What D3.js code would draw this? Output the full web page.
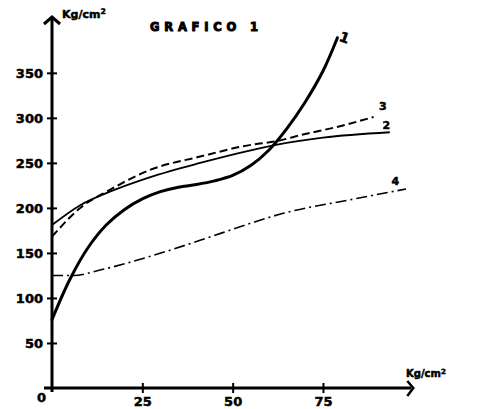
<!DOCTYPE html>
<html>
<head>
<meta charset="utf-8">
<script src="https://cdn.jsdelivr.net/npm/d3@7"></script>
<style>
  html, body { margin: 0; padding: 0; background: #fff; }
  svg { display: block; }
  text { font-family: "DejaVu Sans", sans-serif; font-weight: bold; fill: #000; stroke: #000; stroke-width: 0.5px; }
</style>
</head>
<body>
<svg id="chart" width="497" height="409"></svg>
<script>
// Curve 1: thick solid line
const c1X = [0, 5, 10, 15, 20, 25, 30, 35, 40, 45, 50, 55, 60, 65, 70, 75, 79];
const c1Y = [76, 121, 156, 181, 198, 210, 218, 223, 226, 230, 236, 247, 264, 288, 317, 352, 389];
// Curve 2: thin solid line
const c2X = [0, 7.8, 16, 27, 41, 55, 62, 75, 93.5];
const c2Y = [181, 203, 218, 234, 250, 264, 270, 278, 284];
// Curve 3: dashed line
const c3X = [0, 7.8, 16, 27, 41, 55, 62, 69, 80, 89];
const c3Y = [168, 200, 220, 242, 257, 270, 274, 281, 291, 301];
// Curve 4: dash-dot line
const c4X = [0, 6, 13.3, 27, 41, 55, 64, 82.5, 98];
const c4Y = [125, 125, 131, 146, 164, 183, 194, 209, 221];

const yTicks = [50, 100, 150, 200, 250, 300, 350];
const xTicks = [25, 50, 75];
const title = "GRAFICO 1";
const unitLabel = "Kg/cm";

const svg = d3.select("#chart");
const x = d3.scaleLinear().domain([0, 100]).range([52, 413.3]);
const y = d3.scaleLinear().domain([0, 412]).range([388, 17]);

// Axes with ticks crossing the axis line
const yAxis = d3.axisLeft(y).tickValues(yTicks).tickSize(0).tickPadding(9);
const gy = svg.append("g").attr("transform", `translate(${x(0)},0)`).call(yAxis);
gy.select(".domain").remove();
gy.selectAll(".tick line").attr("x1", -5).attr("x2", 5).attr("stroke", "#000").attr("stroke-width", 2);
gy.selectAll(".tick text").attr("font-size", 13).attr("font-family", "DejaVu Sans").attr("font-weight", "bold").attr("fill", "#000");

const xAxis = d3.axisBottom(x).tickValues(xTicks).tickSize(0).tickPadding(9);
const gx = svg.append("g").attr("transform", `translate(0,${y(0)})`).call(xAxis);
gx.select(".domain").remove();
gx.selectAll(".tick line").attr("y1", -5).attr("y2", 5).attr("stroke", "#000").attr("stroke-width", 2);
gx.selectAll(".tick text").attr("font-size", 13).attr("font-family", "DejaVu Sans").attr("font-weight", "bold").attr("fill", "#000");

// Axis lines with arrowheads
svg.append("line").attr("x1", x(0)).attr("x2", x(0)).attr("y1", y(0) + 4).attr("y2", y(412) + 2)
  .attr("stroke", "#000").attr("stroke-width", 3);
svg.append("path")
  .attr("d", `M${x(0) - 8},${y(412) + 7} L${x(0)},${y(412)} L${x(0) + 8},${y(412) + 7}`)
  .attr("fill", "none").attr("stroke", "#000").attr("stroke-width", 3);
svg.append("line").attr("x1", x(0) - 8).attr("x2", x(100) - 2).attr("y1", y(0)).attr("y2", y(0))
  .attr("stroke", "#000").attr("stroke-width", 3);
svg.append("path")
  .attr("d", `M${x(100) - 6},${y(0) - 7} L${x(100)},${y(0)} L${x(100) - 6},${y(0) + 8}`)
  .attr("fill", "none").attr("stroke", "#000").attr("stroke-width", 2.5);

svg.append("text").attr("x", x(0) - 6).attr("y", y(0) + 14).attr("text-anchor", "end")
  .attr("font-size", 13).text("0");

// Unit labels
function unit(xp, yp, size) {
  const t = svg.append("text").attr("x", xp).attr("y", yp).attr("font-size", size);
  t.append("tspan").text(unitLabel);
  t.append("tspan").attr("dy", -size * 0.35).attr("font-size", size * 0.7).text("2");
}
unit(x(0) + 10, 18, 11);
unit(x(98), y(0) - 11, 10);

// Title
svg.append("text").attr("x", 150).attr("y", 31).attr("font-size", 11.5)
  .attr("letter-spacing", 4.8).style("stroke-width", "1px").text(title);

// Curves
const smooth = d3.line().x(d => x(d[0])).y(d => y(d[1])).curve(d3.curveCatmullRom.alpha(0.5));
const line = d3.line().x(d => x(d[0])).y(d => y(d[1])).curve(d3.curveMonotoneX);
const zip = (a, b) => a.map((v, i) => [v, b[i]]);

svg.append("path").datum(zip(c4X, c4Y)).attr("d", line).attr("fill", "none")
  .attr("stroke", "#000").attr("stroke-width", 1.6).attr("stroke-dasharray", "11,4,2,4");
svg.append("path").datum(zip(c3X, c3Y)).attr("d", line).attr("fill", "none")
  .attr("stroke", "#000").attr("stroke-width", 2).attr("stroke-dasharray", "8,4");
svg.append("path").datum(zip(c2X, c2Y)).attr("d", line).attr("fill", "none")
  .attr("stroke", "#000").attr("stroke-width", 1.8);
svg.append("path").datum(zip(c1X, c1Y)).attr("d", smooth).attr("fill", "none")
  .attr("stroke", "#000").attr("stroke-width", 3).attr("stroke-linecap", "round");

// Curve labels
svg.append("text").attr("x", x(79.5)).attr("y", y(389) + 3).attr("font-size", 14)
  .attr("transform", `rotate(20,${x(79.5)},${y(389)})`).text("1");
svg.append("text").attr("x", x(90.5)).attr("y", y(309)).attr("font-size", 11).text("3");
svg.append("text").attr("x", x(91.5)).attr("y", y(288)).attr("font-size", 11).text("2");
svg.append("text").attr("x", x(94)).attr("y", y(225)).attr("font-size", 11).text("4");
</script>
</body>
</html>
